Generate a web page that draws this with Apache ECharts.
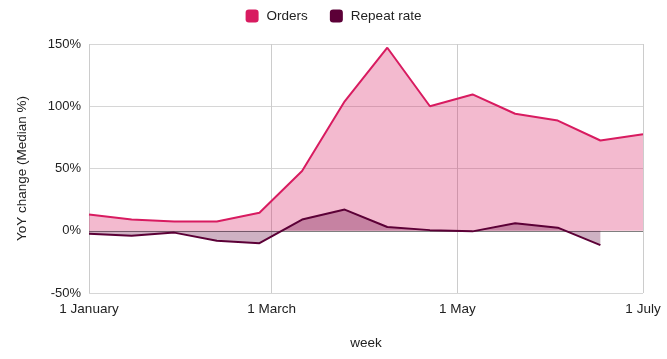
<!DOCTYPE html>
<html>
<head>
<meta charset="utf-8">
<script src="https://cdn.jsdelivr.net/npm/echarts@6/dist/echarts.min.js"></script>
<style>
html,body{margin:0;padding:0;background:#fff;}
#chart{width:667px;height:359px;}
</style>
</head>
<body>
<div id="chart"></div>
<script>
const weeks = ['2020-01-01','2020-01-15','2020-01-29','2020-02-12','2020-02-26','2020-03-11','2020-03-25','2020-04-08','2020-04-22','2020-05-06','2020-05-20','2020-06-03','2020-06-17','2020-07-01'];
const orders = [13, 9, 7.5, 7.5, 14.5, 48, 104, 147, 100, 109.5, 94, 88.5, 72.5, 77.5];
const repeatRate = [-2.5, -4, -1.5, -8, -10, 9, 17, 3, 0.5, -0.5, 6, 2.5, -11.5];
const xTickDates = ['2020-01-01','2020-03-01','2020-05-01','2020-07-01'];
const xTickLabels = ['1 January','1 March','1 May','1 July'];
const yTicks = [-50, 0, 50, 100, 150];

const ts = d => new Date(d + 'T00:00:00Z').getTime();
const tickTs = xTickDates.map(ts);
const labelFor = v => {
  let best = 0, bd = Infinity;
  tickTs.forEach((t, i) => { const d = Math.abs(t - v); if (d < bd) { bd = d; best = i; } });
  return bd < 3600000 ? xTickLabels[best] : '';
};

const font = 'Liberation Sans, Arial, sans-serif';
const chart = echarts.init(document.getElementById('chart'));
chart.setOption({
  animation: false,
  textStyle: {fontFamily: font},
  legend: {
    top: 4, left: 'center',
    itemWidth: 13, itemHeight: 13, itemGap: 22,
    icon: 'roundRect',
    textStyle: {fontSize: 13.5, color: '#222', fontFamily: font, padding: [0, 0, 0, 3]},
    data: ['Orders', 'Repeat rate']
  },
  grid: {left: 89, right: 24, top: 44, bottom: 66, containLabel: false},
  xAxis: {
    type: 'value',
    min: tickTs[0], max: tickTs[tickTs.length - 1],
    name: 'week', nameLocation: 'middle', nameGap: 43,
    nameTextStyle: {fontSize: 13.5, color: '#222', fontFamily: font},
    axisLine: {show: false},
    axisTick: {show: false},
    splitLine: {show: false},
    axisLabel: {
      customValues: tickTs,
      formatter: v => labelFor(v),
      fontSize: 13.5, color: '#222', margin: 9, fontFamily: font,
      showMinLabel: true, showMaxLabel: true, hideOverlap: false
    }
  },
  yAxis: {
    type: 'value', min: yTicks[0], max: yTicks[yTicks.length - 1], interval: 50,
    name: 'YoY change (Median %)', nameLocation: 'middle', nameGap: 60,
    nameTextStyle: {fontSize: 13.5, color: '#222', fontFamily: font},
    axisLine: {show: false}, axisTick: {show: false},
    axisLabel: {formatter: '{value}%', fontSize: 13, color: '#222', margin: 8, fontFamily: font},
    splitLine: {lineStyle: {color: '#d6d6d6', width: 1}}
  },
  series: [
    {
      name: 'grid-v', type: 'line', data: [], z: 0, silent: true,
      markLine: {
        z: 1,
        silent: true, symbol: 'none', label: {show: false},
        lineStyle: {color: '#cccccc', type: 'solid', width: 1},
        data: tickTs.map(t => ({xAxis: t}))
      }
    },
    {
      name: 'Orders', type: 'line',
      data: weeks.map((d, i) => [ts(d), orders[i]]),
      symbol: 'none',
      lineStyle: {color: '#d81b60', width: 2},
      itemStyle: {color: '#d81b60'},
      areaStyle: {color: '#d81b60', opacity: 0.3},
      z: 2
    },
    {
      name: 'Repeat rate', type: 'line',
      data: repeatRate.map((v, i) => [ts(weeks[i]), v]),
      symbol: 'none',
      lineStyle: {color: '#5c0037', width: 2},
      itemStyle: {color: '#5c0037'},
      areaStyle: {color: '#5c0037', opacity: 0.3},
      z: 4,
      markLine: {
        z: 3,
        silent: true, symbol: 'none', label: {show: false},
        lineStyle: {color: '#444444', type: 'solid', width: 1, opacity: 0.6},
        data: [{yAxis: 0}]
      }
    }
  ]
});
</script>
</body>
</html>
